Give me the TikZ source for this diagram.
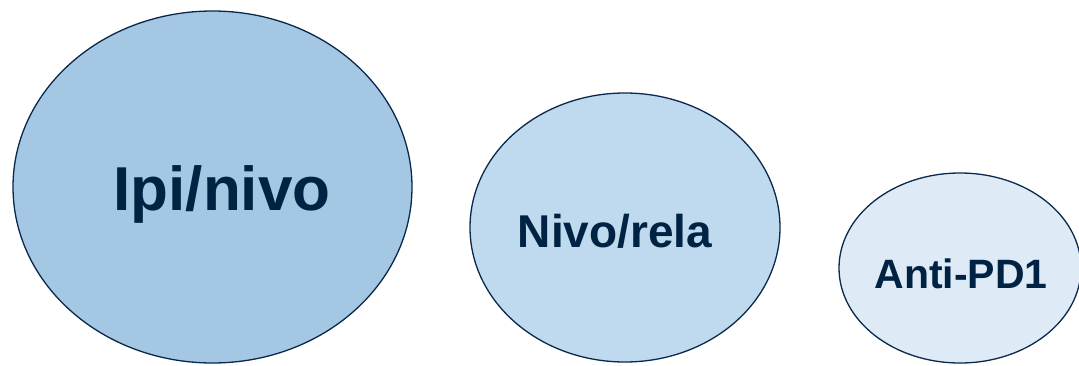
\documentclass[tikz,border=0pt]{standalone}
\usepackage{fontspec}
\setmainfont{Liberation Sans}
\usetikzlibrary{shapes}

\definecolor{navy}{RGB}{0,35,67}
\definecolor{rim}{RGB}{10,40,75}
\definecolor{blueA}{RGB}{164,200,227}
\definecolor{blueB}{RGB}{191,218,238}
\definecolor{blueC}{RGB}{222,234,245}

\tikzset{
  blob/.style={draw=rim, line width=1.3pt, ellipse, inner sep=0pt},
  word/.style={text=navy, anchor=base, inner sep=0pt}
}

\begin{document}
\begin{tikzpicture}[x=1pt,y=-1pt]
    \useasboundingbox (0,0) rectangle (1079,365);

    \coordinate (c1) at (212.5,187);
    \coordinate (c2) at (625,227.5);
    \coordinate (c3) at (960,268);

    \node (ipi) [blob, fill=blueA, minimum width=399pt, minimum height=352pt] at (c1) {};
    \node (rela) [blob, fill=blueB, minimum width=310pt, minimum height=269pt] at (c2) {};
    \node (pd1) [blob, fill=blueC, minimum width=242pt, minimum height=190pt] at (c3) {};

    \node (ipitext) [word, font=\fontsize{62}{62}\selectfont\bfseries] at (222,210) {Ipi/nivo};
    \node (relatext) [word, font=\fontsize{46}{46}\selectfont\bfseries] at (615,247) {Nivo/rela};
    \node (pd1text) [word, font=\fontsize{41}{41}\selectfont\bfseries] at (961,288) {Anti-PD1};

  \end{tikzpicture}
\end{document}
